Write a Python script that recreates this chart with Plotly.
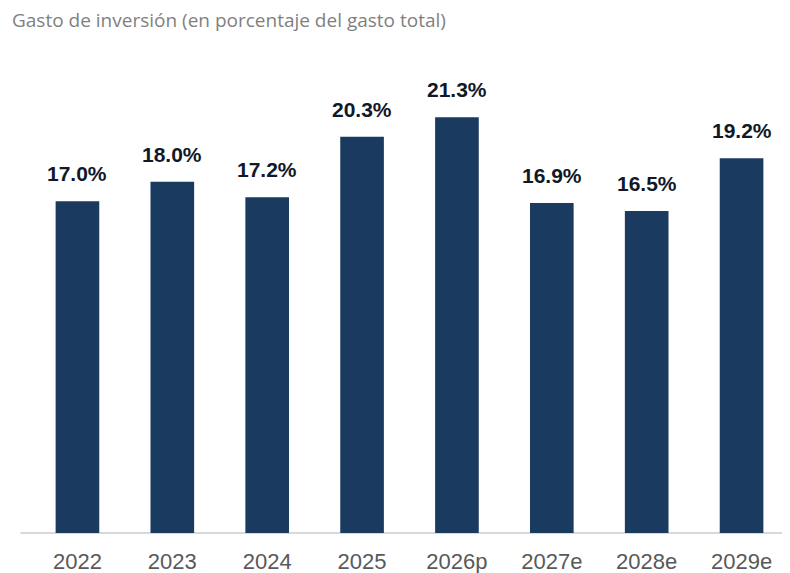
import plotly.graph_objects as go

categories = ["2022", "2023", "2024", "2025", "2026p", "2027e", "2028e", "2029e"]
values = [17.0, 18.0, 17.2, 20.3, 21.3, 16.9, 16.5, 19.2]
labels = [f"{v:.1f}%" for v in values]

fig = go.Figure(go.Bar(
    x=categories, y=values,
    marker=dict(color="#1A3A60", line=dict(width=0)),
    width=0.46,
))

annotations = [dict(text=f"<b>{t}</b>", x=i, y=v, xref="x", yref="y",
                    yanchor="bottom", xanchor="center", yshift=14, showarrow=False,
                    font=dict(family="Liberation Sans, Arial", size=21, color="#111827"))
               for i, (v, t) in enumerate(zip(values, labels))]
annotations.append(dict(text="Gasto de inversión (en porcentaje del gasto total)",
                        xref="paper", yref="paper", x=-0.025, y=1.0512,
                        xanchor="left", yanchor="middle", showarrow=False, borderpad=0,
                        font=dict(family="Open Sans, Noto Sans", size=19, color="#7F7F7F")))

fig.update_layout(
    width=790, height=573,
    margin=dict(l=21.5, r=8.5, t=37, b=48, autoexpand=False),
    paper_bgcolor="white", plot_bgcolor="white",
    showlegend=False,
    xaxis=dict(type="category", range=[-0.5, len(categories) - 0.5],
               showline=False, ticks="",
               ticklabelstandoff=13,
               tickfont=dict(family="Liberation Sans, Arial", size=22, color="#595959")),
    yaxis=dict(range=[0, 25], visible=False),
    annotations=annotations,
    shapes=[dict(type="line", xref="paper", yref="paper", x0=-0.0125, x1=1.02, y0=0, y1=0,
                 line=dict(color="#D9D9D9", width=2), layer="below")],
)
fig.write_html("out.html")
